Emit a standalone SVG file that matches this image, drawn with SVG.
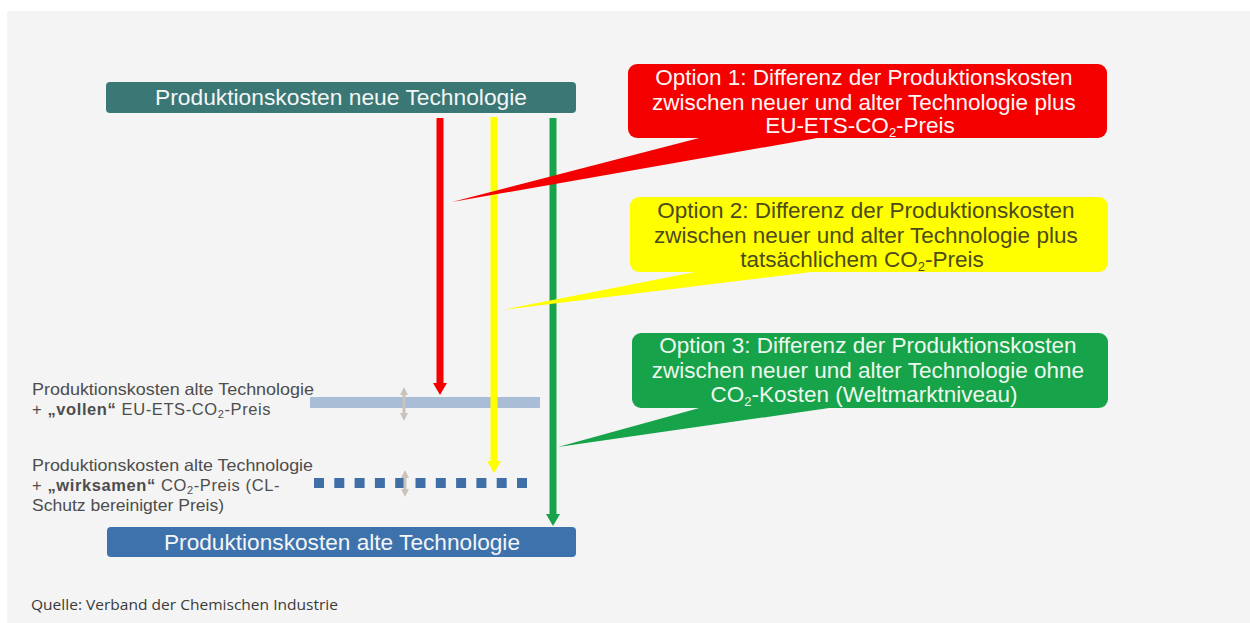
<svg xmlns="http://www.w3.org/2000/svg" width="1250" height="623" viewBox="0 0 1250 623">
<style>
.t{font-family:"Liberation Sans",Arial,sans-serif}
.box{font-size:22.5px;fill:#f4f6f6;text-anchor:middle}
.opt{font-size:22.5px;text-anchor:middle}
.lbl{font-size:16.5px;fill:#4d4d4d}
.wide{letter-spacing:0.6px}
.sub{font-size:11px}
.osub{font-size:13px}
.red{fill:#f50000}
.yel{fill:#ffff00}
.grn{fill:#17a34a}
</style>
<defs>
<marker id="hR" viewBox="0 0 12 14" refX="2" refY="7" markerWidth="12" markerHeight="14" markerUnits="userSpaceOnUse" orient="auto"><path d="M0,0 L12,7 L0,14 z" fill="#f50000"/></marker>
<marker id="hY" viewBox="0 0 12 14" refX="2" refY="7" markerWidth="12" markerHeight="14" markerUnits="userSpaceOnUse" orient="auto"><path d="M0,0 L12,7 L0,14 z" fill="#ffff00"/></marker>
<marker id="hG" viewBox="0 0 12 14" refX="2" refY="7" markerWidth="12" markerHeight="14" markerUnits="userSpaceOnUse" orient="auto"><path d="M0,0 L12,7 L0,14 z" fill="#17a34a"/></marker>
<marker id="hS" viewBox="0 0 8 8" refX="1" refY="4" markerWidth="8" markerHeight="8" markerUnits="userSpaceOnUse" orient="auto-start-reverse"><path d="M0,0 L8,4 L0,8 z" fill="#cbc3bb"/></marker>
</defs>
<rect x="0" y="0" width="1250" height="623" fill="#ffffff"/>
<rect x="7" y="11" width="1243" height="612" fill="#f4f4f4"/>

<g id="levels">
<rect x="310" y="397" width="230" height="11" fill="#a9bdd7"/>
<g fill="#3f6fa6">
<rect x="314" y="478" width="10" height="10"/><rect x="334.3" y="478" width="10" height="10"/><rect x="354.6" y="478" width="10" height="10"/><rect x="374.9" y="478" width="10" height="10"/><rect x="395.2" y="478" width="10" height="10"/><rect x="415.5" y="478" width="10" height="10"/><rect x="435.8" y="478" width="10" height="10"/><rect x="456.1" y="478" width="10" height="10"/><rect x="476.4" y="478" width="10" height="10"/><rect x="496.7" y="478" width="10" height="10"/><rect x="517" y="478" width="10" height="10"/>
</g>
</g>

<g id="connectors">
<line x1="440" y1="118" x2="440" y2="385" stroke="#f50000" stroke-width="7" marker-end="url(#hR)"/>
<line x1="494" y1="117" x2="494" y2="463" stroke="#ffff00" stroke-width="7" marker-end="url(#hY)"/>
<line x1="553" y1="118" x2="553" y2="516" stroke="#17a34a" stroke-width="7" marker-end="url(#hG)"/>
<line x1="404" y1="394" x2="404" y2="414" stroke="#cbc3bb" stroke-width="3" marker-start="url(#hS)" marker-end="url(#hS)"/>
<line x1="405" y1="477" x2="405" y2="490" stroke="#cbc3bb" stroke-width="3" marker-start="url(#hS)" marker-end="url(#hS)"/>
</g>

<g id="node-neu">
<rect x="106" y="82" width="470" height="31" rx="4" fill="#3a7775"/>
<text class="t box" x="341" y="105" textLength="372" lengthAdjust="spacingAndGlyphs">Produktionskosten neue Technologie</text>
</g>

<g id="node-alt">
<rect x="107" y="527" width="469" height="30" rx="4" fill="#3e72ad"/>
<text class="t box" x="342" y="550" textLength="356" lengthAdjust="spacingAndGlyphs">Produktionskosten alte Technologie</text>
</g>

<g id="label-voll" class="t lbl">
<text x="32" y="395" textLength="282" lengthAdjust="spacingAndGlyphs">Produktionskosten alte Technologie</text>
<text class="wide" x="32" y="415">+ <tspan font-weight="bold">„vollen“</tspan> EU-ETS-CO<tspan class="sub" dy="3">2</tspan><tspan dy="-3">-Preis</tspan></text>
</g>

<g id="label-wirksam" class="t lbl">
<text x="32" y="471" textLength="281" lengthAdjust="spacingAndGlyphs">Produktionskosten alte Technologie</text>
<text class="wide" x="32" y="491">+ <tspan font-weight="bold">„wirksamen“</tspan> CO<tspan class="sub" dy="3">2</tspan><tspan dy="-3">-Preis (CL-</tspan></text>
<text x="32" y="511" textLength="192" lengthAdjust="spacingAndGlyphs">Schutz bereinigter Preis)</text>
</g>

<g id="option1">
<path class="red" d="M703,137 L452,202 L823,137 z"/>
<rect class="red" x="628" y="64" width="479" height="74" rx="9"/>
<text class="t opt" fill="#fff6f6">
<tspan x="867" y="85">Option 1: Differenz der Produktionskosten</tspan>
<tspan x="867" y="110">zwischen neuer und alter Technologie plus</tspan>
<tspan x="860" y="133">EU-ETS-CO</tspan><tspan class="osub" dy="4">2</tspan><tspan dy="-4">-Preis</tspan>
</text>
</g>

<g id="option2">
<path class="yel" d="M700,271 L502,310 L820,271 z"/>
<rect class="yel" x="630" y="197" width="478" height="75" rx="9"/>
<text class="t opt" fill="#4b4b1e">
<tspan x="869" y="218">Option 2: Differenz der Produktionskosten</tspan>
<tspan x="869" y="243">zwischen neuer und alter Technologie plus</tspan>
<tspan x="862" y="267">tatsächlichem CO</tspan><tspan class="osub" dy="4">2</tspan><tspan dy="-4">-Preis</tspan>
</text>
</g>

<g id="option3">
<path class="grn" d="M703,407 L558,447 L836,407 z"/>
<rect class="grn" x="632" y="333" width="476" height="75" rx="9"/>
<text class="t opt" fill="#eef8ee">
<tspan x="871" y="353">Option 3: Differenz der Produktionskosten</tspan>
<tspan x="871" y="378">zwischen neuer und alter Technologie ohne</tspan>
<tspan x="864" y="402">CO</tspan><tspan class="osub" dy="4">2</tspan><tspan dy="-4">-Kosten (Weltmarktniveau)</tspan>
</text>
</g>

<text x="31" y="610" font-family="'Open Sans', 'Liberation Sans', sans-serif" font-size="14" fill="#3a3a3a" textLength="307" lengthAdjust="spacingAndGlyphs">Quelle: Verband der Chemischen Industrie</text>
</svg>
